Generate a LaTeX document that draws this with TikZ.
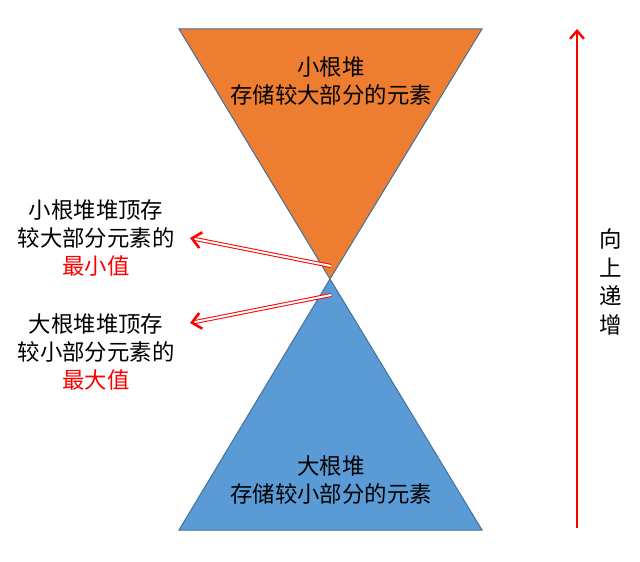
\documentclass[tikz,border=0pt]{standalone}
\usepackage{fontspec}
\setmainfont{Noto Sans CJK SC}
\usetikzlibrary{arrows.meta, positioning, calc}
\definecolor{minheap}{HTML}{ED7D31}
\definecolor{maxheap}{HTML}{5B9BD5}
\definecolor{edgeblue}{HTML}{41719C}

\begin{document}
\begin{tikzpicture}[
    x=0.5pt, y=-0.5pt,
    every node/.style={font=\fontsize{11.2pt}{14.2pt}\selectfont, align=center, inner sep=0pt},
    heap/.style={draw=edgeblue, line width=0.5pt},
    note/.style={text=black},
    dblarr/.style={red, double=white, double distance=1pt, line width=0.5pt,
                   -{Straight Barb[length=4.5pt, width=8pt, line width=1.3pt]}},
    uparr/.style={red, line width=1pt, -{Straight Barb[length=4pt, width=7pt, line width=1.2pt]}}
]
    \useasboundingbox (0,0) rectangle (640,561);

    % the two heaps
    \coordinate (tl) at (179,29);
    \coordinate (tr) at (482,29);
    \coordinate (mid) at (330,279);
    \coordinate (bl) at (179,530);
    \coordinate (br) at (482,530);
    \fill[minheap] (tl) -- (tr) -- (mid) -- cycle;
    \fill[maxheap] (bl) -- (br) -- (mid) -- cycle;
    \draw[heap] (tl) -- (tr) -- (mid) -- cycle;
    \draw[heap] (bl) -- (br) -- (mid) -- cycle;

    \node (top) at (331,81) {小根堆\\存储较大部分的元素};
    \node (bot) at (331,480) {大根堆\\存储较小部分的元素};

    % labels on the left
    \node[note] (minlbl) at (96,238) {小根堆堆顶存\\较大部分元素的\\\textcolor{red}{最小值}};
    \node[note] (maxlbl) at (96,352) {大根堆堆顶存\\较小部分元素的\\\textcolor{red}{最大值}};

    \coordinate (minsrc) at (331,266);
    \coordinate (maxsrc) at (331,295);
    \coordinate (minend) at (190,238);
    \coordinate (maxend) at (190,323);
    \draw[dblarr] (minsrc) -- (minend);
    \draw[dblarr] (maxsrc) -- (maxend);

    % increasing direction
    \coordinate (upbot) at (577,528);
    \coordinate (uptop) at (577,29);
    \draw[uparr] (upbot) -- (uptop);
    \node (dir) at (611,282) {向\\上\\递\\增};
\end{tikzpicture}
\end{document}
